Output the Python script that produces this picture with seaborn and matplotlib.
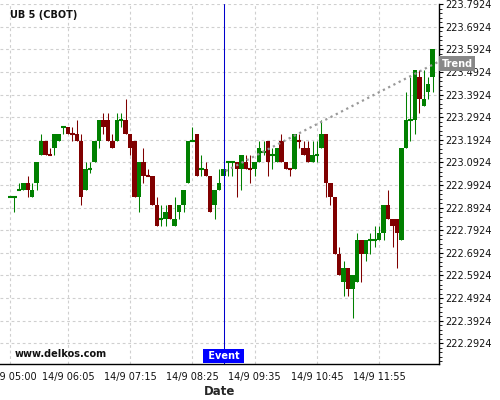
""" UB 5 (CBOT) intraday candlesticks """

import numpy as np
import pandas as pd
import matplotlib
matplotlib.use('Agg')
import matplotlib.pyplot as plt
import matplotlib.transforms as mtransforms
from matplotlib.ticker import FixedLocator, AutoMinorLocator
import seaborn as sns

# 5 minute bars, bar 0 = 14/9 05:00
opens = [
    222.9375, 222.9375, 222.96875, 222.96875, 223.0, 222.9375, 223.0, 223.125,
    223.1875, 223.125, 223.15625, 223.1875, 223.25, 223.25, 223.21875, 223.21875,
    223.1875, 222.96875, 223.0625, 223.09375, 223.1875, 223.28125, 223.28125, 223.1875,
    223.1875, 223.28125, 223.28125, 223.21875, 223.1875, 222.9375, 223.09375, 223.03125,
    223.03125, 222.90625, 222.84375, 222.84375, 222.90625, 222.8125, 222.875, 222.90625,
    223.0, 223.1875, 223.21875, 223.0625, 223.0625, 223.03125, 222.90625, 222.96875,
    223.03125, 223.09375, 223.09375, 223.09375, 223.0625, 223.09375, 223.0625, 223.0625,
    223.09375, 223.140625, 223.1875, 223.125, 223.09375, 223.1875, 223.09375, 223.0625,
    223.0625, 223.1875, 223.15625, 223.15625, 223.09375, 223.125, 223.15625, 223.21875,
    223.0, 222.9375, 222.6875, 222.5625, 222.625, 222.53125, 222.5625, 222.75,
    222.6875, 222.75, 222.75, 222.75, 222.78125, 222.90625, 222.84375, 222.84375,
    222.75, 223.15625, 223.28125, 223.28125, 223.46875, 223.34375, 223.40625, 223.46875,
]
highs = [
    222.9375, 222.9375, 223.0, 223.0, 223.03125, 223.0, 223.09375, 223.21875,
    223.1875, 223.15625, 223.21875, 223.21875, 223.25, 223.25, 223.25, 223.28125,
    223.21875, 223.09375, 223.09375, 223.1875, 223.28125, 223.3125, 223.3125, 223.21875,
    223.3125, 223.3125, 223.375, 223.21875, 223.1875, 223.09375, 223.15625, 223.0625,
    223.03125, 222.9375, 222.90625, 222.90625, 222.90625, 222.9375, 222.90625, 222.96875,
    223.1875, 223.25, 223.21875, 223.125, 223.09375, 223.03125, 222.96875, 223.0625,
    223.0625, 223.09375, 223.09375, 223.09375, 223.125, 223.125, 223.125, 223.09375,
    223.1875, 223.1875, 223.1875, 223.15625, 223.15625, 223.21875, 223.09375, 223.0625,
    223.21875, 223.21875, 223.1875, 223.1875, 223.1875, 223.1875, 223.28125, 223.21875,
    223.0, 222.9375, 222.71875, 222.65625, 222.625, 222.59375, 222.78125, 222.75,
    222.75, 222.78125, 222.8125, 222.8125, 222.90625, 222.96875, 222.84375, 222.84375,
    223.15625, 223.40625, 223.46875, 223.5, 223.5, 223.5, 223.46875, 223.59375,
]
lows = [
    222.9375, 222.875, 222.96875, 222.96875, 222.9375, 222.9375, 222.96875, 223.125,
    223.125, 223.125, 223.125, 223.1875, 223.21875, 223.21875, 223.1875, 223.1875,
    222.90625, 222.96875, 223.046875, 223.09375, 223.15625, 223.21875, 223.1875, 223.15625,
    223.1875, 223.25, 223.21875, 223.125, 222.9375, 222.875, 223.0, 223.03125,
    222.90625, 222.8125, 222.8125, 222.8125, 222.84375, 222.8125, 222.84375, 222.875,
    223.0, 223.1875, 223.03125, 223.03125, 223.03125, 222.875, 222.84375, 222.96875,
    223.03125, 223.03125, 223.03125, 222.9375, 222.96875, 223.0625, 223.0, 223.03125,
    223.09375, 223.125, 223.03125, 223.0625, 223.09375, 223.09375, 223.0625, 223.03125,
    223.0625, 223.15625, 223.125, 223.09375, 223.09375, 223.09375, 223.15625, 222.9375,
    222.90625, 222.6875, 222.59375, 222.5, 222.5, 222.40625, 222.5625, 222.5625,
    222.65625, 222.6875, 222.71875, 222.75, 222.75, 222.84375, 222.71875, 222.625,
    222.75, 223.15625, 223.1875, 223.21875, 223.3125, 223.34375, 223.375, 223.40625,
]
closes = [
    222.9375, 222.9375, 222.96875, 223.0, 222.96875, 222.96875, 223.09375, 223.1875,
    223.125, 223.125, 223.21875, 223.21875, 223.25, 223.21875, 223.21875, 223.1875,
    222.9375, 223.0625, 223.0625, 223.1875, 223.28125, 223.25, 223.1875, 223.15625,
    223.28125, 223.28125, 223.21875, 223.15625, 222.9375, 223.09375, 223.03125, 223.03125,
    222.90625, 222.8125, 222.84375, 222.875, 222.84375, 222.84375, 222.90625, 222.96875,
    223.1875, 223.1875, 223.03125, 223.0625, 223.03125, 222.875, 222.96875, 223.0,
    223.0625, 223.09375, 223.09375, 223.0625, 223.125, 223.0625, 223.0625, 223.09375,
    223.15625, 223.140625, 223.09375, 223.125, 223.15625, 223.09375, 223.0625, 223.0625,
    223.21875, 223.1875, 223.125, 223.09375, 223.125, 223.125, 223.21875, 223.0,
    222.9375, 222.6875, 222.59375, 222.625, 222.53125, 222.59375, 222.75, 222.6875,
    222.75, 222.75, 222.75, 222.78125, 222.90625, 222.84375, 222.8125, 222.78125,
    223.15625, 223.28125, 223.28125, 223.5, 223.375, 223.375, 223.4375, 223.59375,
]
# flat bars that were drawn red
red_dojis = [9, 14, 31, 54, 63, 65]

time_ticks = [0, 13, 27, 41, 55, 69, 83]
time_labels = ['14/9 05:00', '14/9 06:05', '14/9 07:15', '14/9 08:25',
               '14/9 09:35', '14/9 10:45', '14/9 11:55']
price_ticks = [222.2924, 222.3924, 222.4924, 222.5924, 222.6924, 222.7924,
               222.8924, 222.9924, 223.0924, 223.1924, 223.2924, 223.3924,
               223.4924, 223.5924, 223.6924, 223.7924]

event_bar = 48
trend_bars = [48.5, 96.5]
trend_prices = [223.055, 223.54]
trend_label_price = 223.53

df = pd.DataFrame({'Open': opens, 'High': highs, 'Low': lows, 'Close': closes})
df['Bar'] = np.arange(len(df))
df['Up'] = (df['Close'] > df['Open']) | ((df['Close'] == df['Open']) & ~df['Bar'].isin(red_dojis))

green = '#008000'
red = '#800000'

sns.set_style('white')
plt.rcParams['font.family'] = ['DejaVu Sans']

fig = plt.figure(figsize=(5, 4), dpi=100)
ax = fig.add_axes([0, 0.09, 0.8786, 0.8993])

colors = np.where(df['Up'], green, red)
body = (df['Close'] - df['Open']).abs()
bottom = df[['Open', 'Close']].min(axis=1)
solid = (body > 0).values

# wicks, bodies, flat bars
ax.vlines(df['Bar'], df['Low'], df['High'], colors=colors, linewidth=0.75, zorder=2)
ax.bar(df['Bar'][solid], body[solid], bottom=bottom[solid], width=1.0,
       color=colors[solid], linewidth=0, zorder=3)
ax.hlines(df['Close'][~solid], df['Bar'][~solid] - 0.5, df['Bar'][~solid] + 0.5,
          colors=colors[~solid], linewidth=1.5, zorder=3)

# trend line
sns.lineplot(x=trend_bars, y=trend_prices, ax=ax, color='#999999',
             linestyle=':', linewidth=1.6, zorder=4)

# event marker
ax.axvline(event_bar, color='#0000cc', linewidth=0.75, zorder=5)
trans_event = mtransforms.blended_transform_factory(ax.transData, ax.transAxes)
ax.text(event_bar, 0.008, ' Event ', transform=trans_event, ha='center', va='bottom',
        color='white', fontsize=7, fontweight='bold', zorder=6,
        bbox=dict(boxstyle='square,pad=0.2', facecolor='#0000ff', edgecolor='none'))

trans_trend = mtransforms.blended_transform_factory(ax.transAxes, ax.transData)
ax.annotate('Trend', xy=(1.0, trend_label_price), xycoords=trans_trend,
            xytext=(1.5, 0), textcoords='offset points', ha='left', va='center',
            color='white', fontsize=7, fontweight='bold', zorder=10,
            annotation_clip=False,
            bbox=dict(boxstyle='square,pad=0.25', facecolor='#888888', edgecolor='none'))

# texts
ax.text(0.0228, 0.970, 'UB 5 (CBOT)', transform=ax.transAxes, fontsize=7,
        fontweight='bold', va='center', ha='left', color='#111111')
ax.text(0.034, 0.028, 'www.delkos.com', transform=ax.transAxes, fontsize=7,
        fontweight='bold', va='center', ha='left', color='#111111')

# axes
ax.set_xlim(-2.25, 96.5)
ax.set_ylim(222.2008, 223.7924)

ax.xaxis.set_major_locator(FixedLocator(time_ticks))
ax.set_xticklabels(time_labels)
minor_x = []
for a, b in zip(time_ticks[:-1], time_ticks[1:]):
    minor_x += list(np.linspace(a, b, 5)[1:-1])
minor_x += [86.5, 90, 93.5]
ax.xaxis.set_minor_locator(FixedLocator(minor_x))

ax.yaxis.tick_right()
ax.yaxis.set_major_locator(FixedLocator(price_ticks))
ax.set_yticklabels([f'{p:.4f}' for p in price_ticks])
ax.yaxis.set_minor_locator(AutoMinorLocator(5))

ax.tick_params(axis='x', which='both', direction='out', length=3, width=0.8,
               labelsize=7, pad=3, color='black', labelcolor='#111111')
ax.tick_params(axis='y', which='major', direction='out', length=3, width=0.8,
               labelsize=7, pad=1.5, color='black', labelcolor='#111111',
               right=True, left=False)
ax.tick_params(axis='y', which='minor', direction='out', length=1.8, width=0.6,
               color='black', right=True, left=False)

ax.grid(True, which='major', color='#cfcfcf', linestyle=(0, (2.5, 2.5)), linewidth=0.8)
ax.set_axisbelow(True)

for side in ['left', 'top']:
    ax.spines[side].set_visible(False)
for side in ['right', 'bottom']:
    ax.spines[side].set_color('black')
    ax.spines[side].set_linewidth(1.0)

ax.set_xlabel('Date', fontsize=8.5, fontweight='bold', labelpad=2)
ax.set_ylabel('')

fig.savefig('out.png', dpi=100)
